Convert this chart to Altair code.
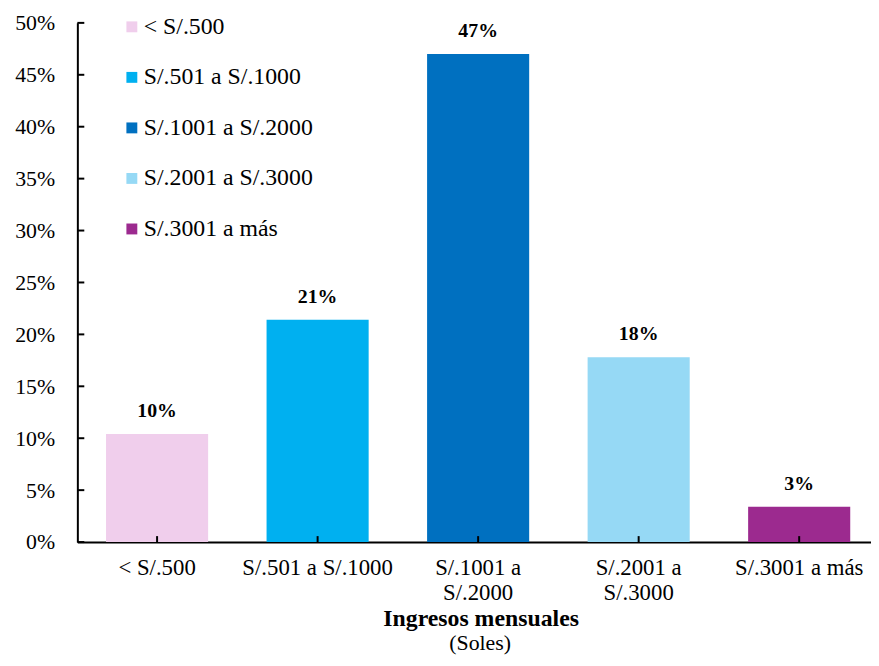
import altair as alt
import pandas as pd

categories = ["< S/.500", "S/.501 a S/.1000", "S/.1001 a S/.2000", "S/.2001 a S/.3000", "S/.3001 a más"]
legend_labels = ["< S/.500", "S/.501 a S/.1000", "S/.1001 a S/.2000", "S/.2001 a S/.3000", " S/.3001 a más"]
values = [0.104, 0.214, 0.470, 0.178, 0.034]
colors = ["#F0CEEC", "#00B0F0", "#0070C0", "#96D9F5", "#9C2A8F"]
y_ticks = [0, 0.05, 0.10, 0.15, 0.20, 0.25, 0.30, 0.35, 0.40, 0.45, 0.50]

FONT = "Liberation Serif"
W, H = 801, 524

df = pd.DataFrame({"cat": categories, "leg": legend_labels, "v": values})
ticks_df = pd.DataFrame({"t": y_ticks})

label_expr = ("datum.label == 'S/.1001 a S/.2000' ? ['S/.1001 a', 'S/.2000'] : "
              "datum.label == 'S/.2001 a S/.3000' ? ['S/.2001 a', 'S/.3000'] : datum.label")

x_scale = alt.Scale(paddingInner=0.364, paddingOuter=0.154, align=0.58)
x_enc = alt.X("cat:N", sort=categories, scale=x_scale,
              axis=alt.Axis(title="Ingresos mensuales", titleFont=FONT, titleFontSize=24,
                            titleFontWeight="bold", titleColor="black",
                            titleX=407, titleY=77, titleBaseline="middle",
                            labelFont=FONT, labelFontSize=23, labelColor="black",
                            labelPadding=15, labelAngle=0, labelExpr=label_expr,
                            labelLineHeight=25,
                            ticks=False, domainColor="black", domainWidth=2))
y_scale = alt.Scale(domain=[0, 0.5], nice=False)

bars = alt.Chart(df).mark_bar().encode(
    x=x_enc,
    y=alt.Y("v:Q", scale=y_scale,
            axis=alt.Axis(title=None, values=y_ticks, format=".0%", grid=False,
                          labelFont=FONT, labelFontSize=22, labelColor="black",
                          labelPadding=23, ticks=False, domainColor="black", domainWidth=2)),
    color=alt.Color("leg:N", sort=legend_labels,
                    scale=alt.Scale(domain=legend_labels, range=colors),
                    legend=alt.Legend(title=None, orient="none", legendX=43, legendY=-8,
                                      symbolType="square", symbolSize=121, symbolStrokeWidth=0,
                                      symbolOpacity=1, labelFont=FONT, labelFontSize=24,
                                      labelColor="black", rowPadding=27, labelOffset=0,
                                      labelLimit=0)),
)

text = alt.Chart(df).mark_text(font=FONT, fontSize=20, fontWeight="bold",
                               baseline="alphabetic", dy=-17, color="black").encode(
    x=alt.X("cat:N", sort=categories, scale=x_scale),
    y=alt.Y("v:Q", scale=y_scale),
    text=alt.Text("v:Q", format=".0%"),
)

ytick_marks = alt.Chart(ticks_df).mark_rule(color="black", strokeWidth=2).encode(
    y=alt.Y("t:Q", scale=y_scale),
    x=alt.value(0),
    x2=alt.value(7),
)

xtick_marks = alt.Chart(df).mark_rule(color="black", strokeWidth=2).encode(
    x=alt.X("cat:N", sort=categories, scale=x_scale),
    y=alt.value(H),
    y2=alt.value(H - 6),
)

chart = alt.layer(bars, text, ytick_marks, xtick_marks).properties(
    width=W, height=H,
    autosize=alt.AutoSizeParams(type="none"),
    padding={"left": 70, "top": 12, "right": 0, "bottom": 114},
    title=alt.TitleParams(text="(Soles)", orient="bottom", font=FONT, fontSize=22,
                          fontWeight="normal", color="black", offset=3, anchor="middle",
                          dx=6),
).configure_view(stroke=None)

chart.save("out.html", embed_options={"renderer": "svg", "actions": False})
